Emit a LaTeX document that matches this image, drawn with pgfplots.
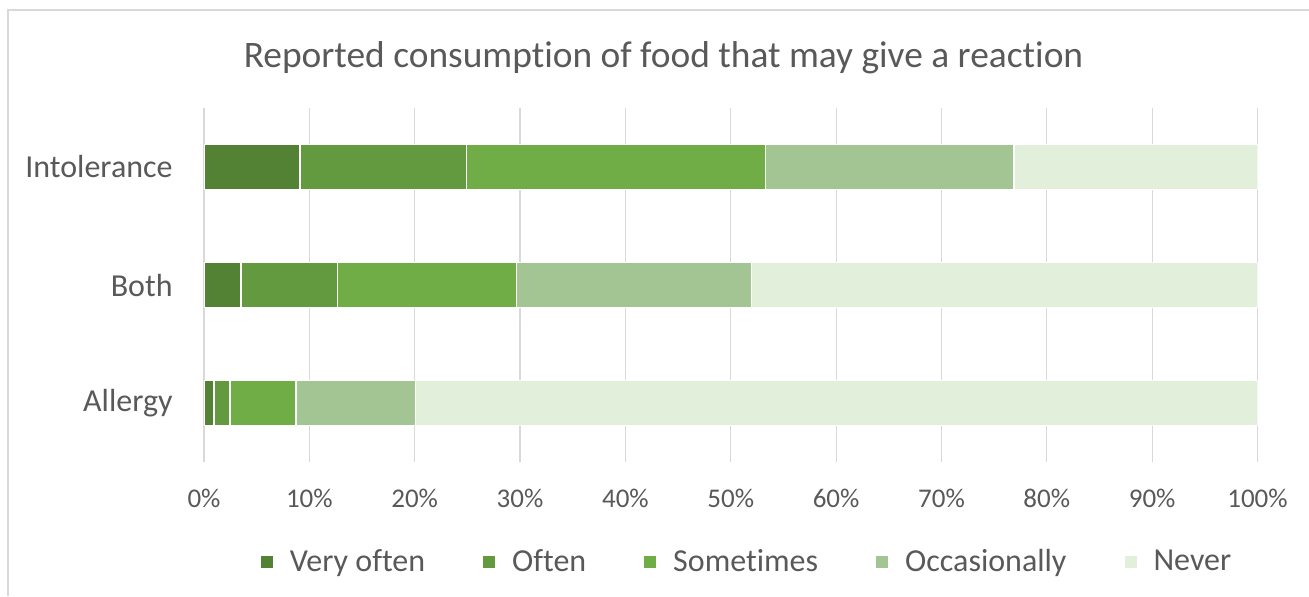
\documentclass[border=0pt]{standalone}
\usepackage{fontspec}
\setmainfont{Carlito}[RawFeature={-liga}]
\usepackage{pgfplots}
\pgfplotsset{compat=1.18}
\definecolor{c1}{HTML}{548235}
\definecolor{c2}{HTML}{639A40}
\definecolor{c3}{HTML}{70AD47}
\definecolor{c4}{HTML}{A3C594}
\definecolor{c5}{HTML}{E2EFDA}
\definecolor{txt}{HTML}{595959}
\definecolor{gridc}{HTML}{D9D9D9}
\begin{document}
\begin{tikzpicture}
\useasboundingbox (0pt,0pt) rectangle (654.5pt,298pt);
\draw[gridc, line width=0.9pt] (4pt,0pt) -- (4pt,293pt) -- (654.5pt,293pt);
\node[text=txt, font=\fontsize{18.7}{22}\selectfont] at (331.75pt,269pt) {Reported consumption of food that may give a reaction};
\begin{axis}[
  at={(102pt,67pt)}, anchor=south west,
  scale only axis, width=526.75pt, height=177pt,
  xbar stacked, bar width=22.5pt,
  xmin=0, xmax=100, ymin=-0.5, ymax=2.5,
  ytick={0,1,2}, yticklabels={Allergy,Both,Intolerance},
  xtick={0,10,...,100},
  xticklabel={\pgfmathprintnumber{\tick}\%},
  /pgf/number format/assume math mode=true,
  xmajorgrids, major grid style={gridc, line width=0.6pt},
  axis line style={draw=none}, major tick length=0pt,
  tick label style={text=txt},
  xticklabel style={font=\fontsize{13.5}{16}\selectfont, anchor=center, yshift=-18pt},
  yticklabel style={font=\fontsize{16}{19}\selectfont, anchor=east, inner sep=0pt, xshift=-15.5pt},
  every axis plot/.append style={draw=white, line width=0.7pt},
  legend columns=-1,
  legend image code/.code={\fill[#1,draw=none] (0pt,-3pt) rectangle (6pt,3pt);},
  legend style={at={(axis description cs:0.054,-0.283)}, anchor=west, draw=none, fill=none,
    inner sep=0pt, outer sep=0pt, font=\fontsize{16}{19}\selectfont, text=txt,
    nodes={inner sep=0pt},
    /tikz/every odd column/.append style={column sep=8.5pt},
    /tikz/every even column/.append style={column sep=29pt}},
]
\addplot[fill=c1] coordinates {(0.95,0) (3.5,1) (9.1,2)};
\addplot[fill=c2] coordinates {(1.5,0) (9.15,1) (15.8,2)};
\addplot[fill=c3] coordinates {(6.3,0) (17.0,1) (28.4,2)};
\addplot[fill=c4] coordinates {(11.3,0) (22.3,1) (23.6,2)};
\addplot[fill=c5] coordinates {(79.95,0) (48.05,1) (23.1,2)};
\legend{Very often,Often,Sometimes,Occasionally,Never}
\end{axis}
\end{tikzpicture}
\end{document}
